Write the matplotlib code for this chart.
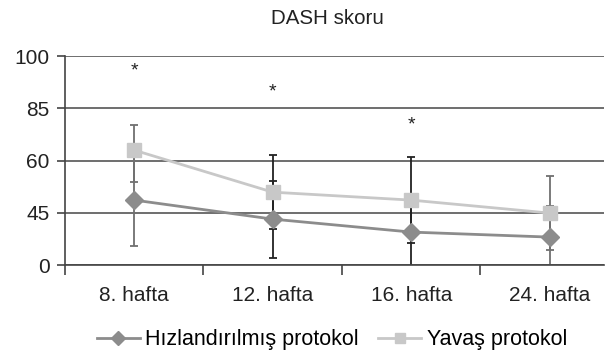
import matplotlib
matplotlib.use("Agg")
import matplotlib.pyplot as plt
import numpy as np

plt.rcParams["font.family"] = ["Liberation Sans", "DejaVu Sans"]

weeks = ["8. hafta", "12. hafta", "16. hafta", "24. hafta"]
y_tick_pos = [0, 25, 50, 75, 100]
y_tick_labels = ["0", "45", "60", "85", "100"]

fast_mean = [31.1, 22.0, 15.8, 13.4]
fast_err = [22.0, 18.4, 17.2, 14.8]
slow_mean = [55.0, 34.9, 31.1, 24.9]
slow_err_low = [15.3, 17.7, 20.6, 17.7]
slow_err_high = [12.0, 17.7, 20.6, 17.7]
err_colors = ["#707070", "#222222", "#222222", "#707070"]

star_x = [0, 1, 2]
star_y = [92.8, 82.8, 67.0]

fast_label = "Hızlandırılmış protokol"
slow_label = "Yavaş protokol"

fig = plt.figure(figsize=(6.1, 3.53), dpi=100)
ax = fig.add_axes([0.1066, 0.249, 0.883, 0.592])
x = np.arange(len(weeks))

for i in range(len(weeks)):
    ax.errorbar(x[i], fast_mean[i], yerr=fast_err[i], fmt="none",
                ecolor=err_colors[i], elinewidth=1.3, capsize=3, capthick=1.3, zorder=2)
    ax.errorbar(x[i], slow_mean[i], yerr=[[slow_err_low[i]], [slow_err_high[i]]], fmt="none",
                ecolor=err_colors[i], elinewidth=1.3, capsize=3, capthick=1.3, zorder=2)

ax.plot(x, slow_mean, color="#c8c8c8", lw=2.0, marker="s", ms=10,
        mfc="#c8c8c8", mec="#c8c8c8", label=slow_label, zorder=3)
ax.plot(x, fast_mean, color="#8c8c8c", lw=2.0, marker="D", ms=9,
        mfc="#8c8c8c", mec="#8c8c8c", label=fast_label, zorder=4)

for sx, sy in zip(star_x, star_y):
    ax.text(sx, sy, "*", ha="center", va="center", fontsize=14, color="#222222")

ax.set_xlim(-0.49, 3.39)
ax.set_ylim(0, 100)
ax.set_yticks(y_tick_pos)
ax.set_yticklabels(y_tick_labels)
ax.set_xticks(x)
ax.set_xticklabels(weeks)
ax.set_xticks([-0.5, 0.5, 1.5, 2.5], minor=True)
ax.tick_params(axis="x", which="major", length=0, pad=15, labelsize=15, colors="#222222")
ax.tick_params(axis="x", which="minor", length=7, width=1.2, color="#444444")
ax.tick_params(axis="y", length=6, width=1.2, color="#444444", labelsize=15,
               labelcolor="#222222", pad=5)

ax.yaxis.grid(True, color="#555555", lw=1.2)
ax.set_axisbelow(True)
for side in ["top", "right"]:
    ax.spines[side].set_visible(False)
for side in ["left", "bottom"]:
    ax.spines[side].set_color("#444444")
    ax.spines[side].set_linewidth(1.2)

fig.text(0.537, 0.947, "DASH skoru", ha="center", va="center", fontsize=14.8, color="#222222")

handles, labels = ax.get_legend_handles_labels()
fig.legend(handles[::-1], labels[::-1], loc="center", bbox_to_anchor=(0.544, 0.037), ncol=2,
           frameon=False, fontsize=15.5, handlelength=2.0, handletextpad=0.25,
           columnspacing=0.9, markerscale=0.75)

fig.savefig("out.png", dpi=100)
